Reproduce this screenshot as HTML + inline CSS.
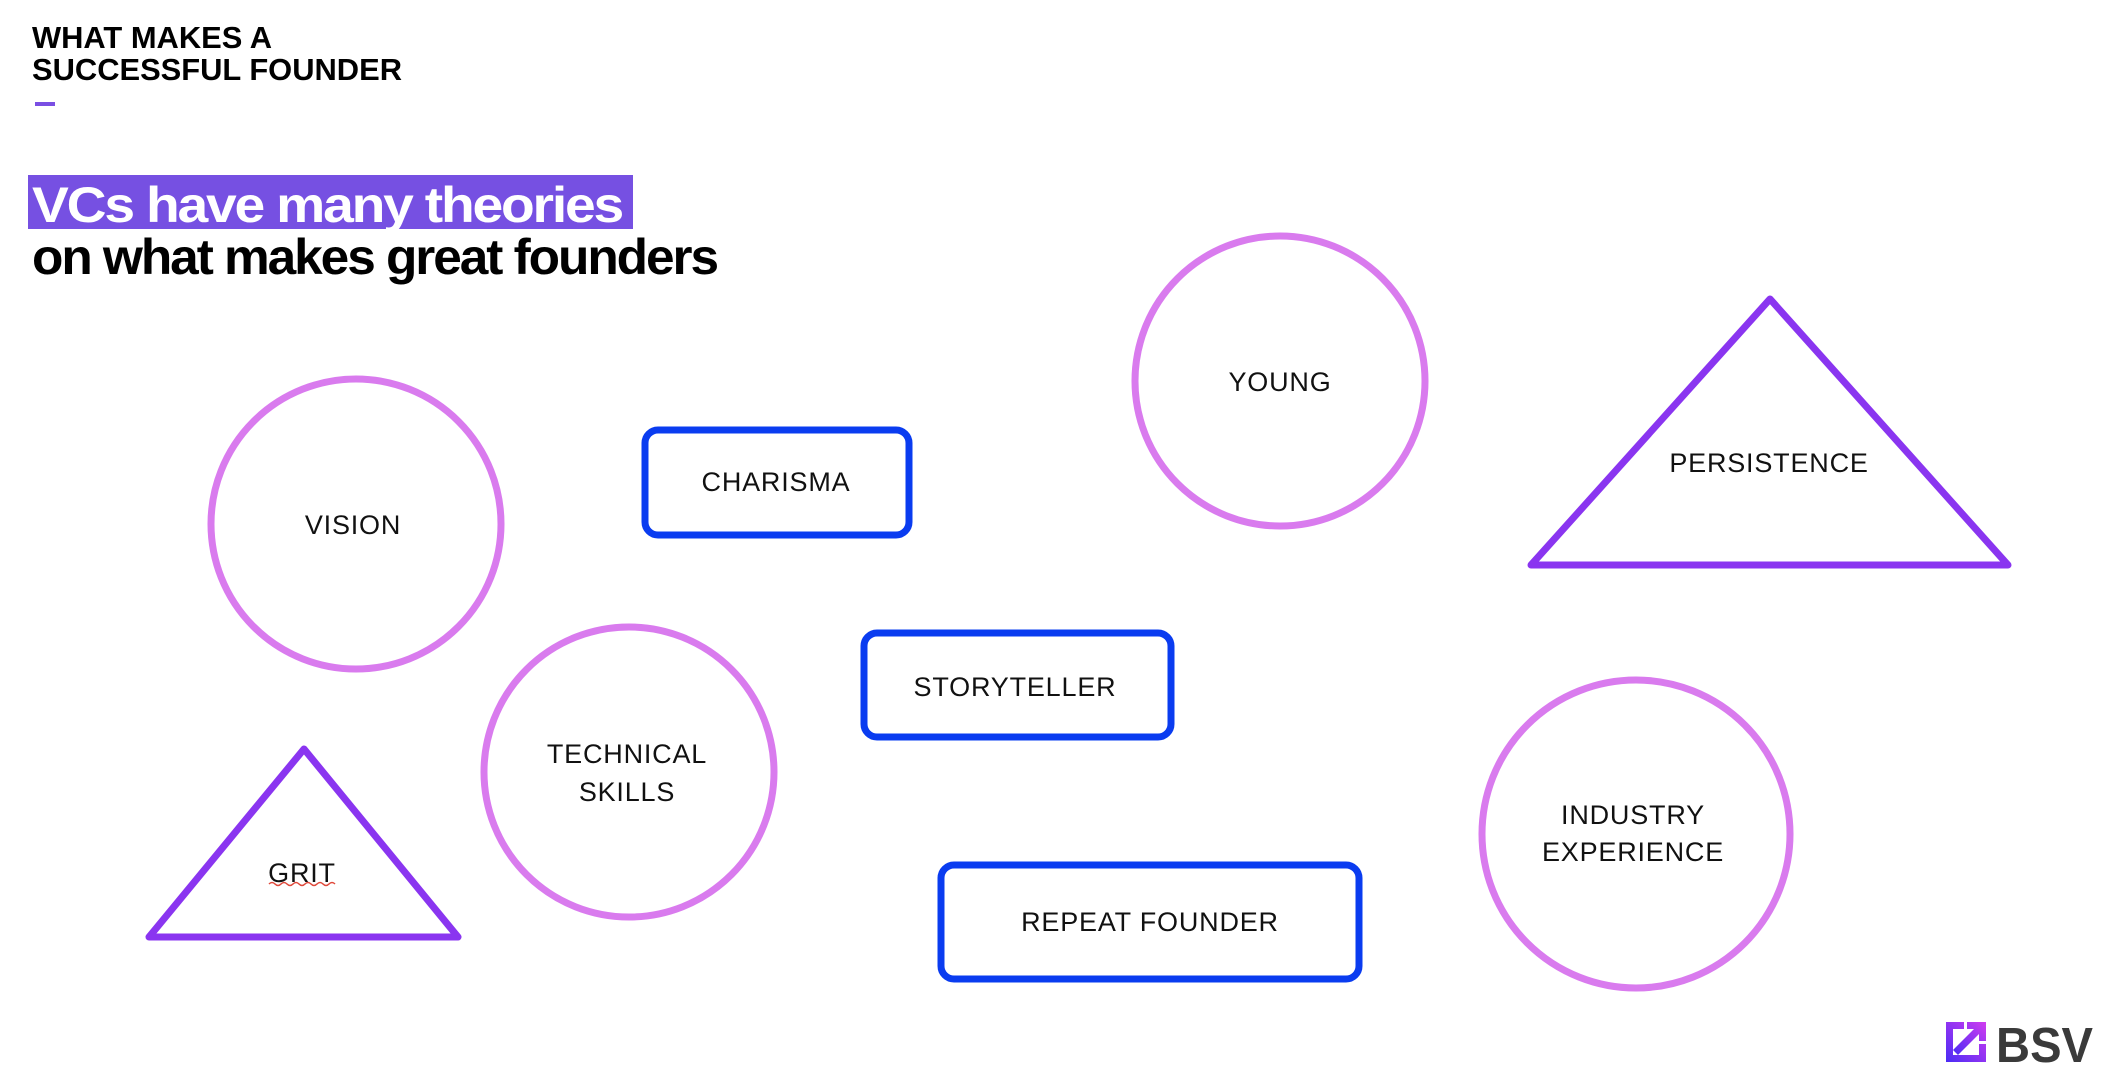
<!DOCTYPE html>
<html><head><meta charset="utf-8"><style>
html,body{margin:0;padding:0;background:#fff;width:2106px;height:1080px;overflow:hidden}
</style></head><body>
<svg width="2106" height="1080" viewBox="0 0 2106 1080" xmlns="http://www.w3.org/2000/svg">
<g font-family="Liberation Sans, sans-serif" font-weight="bold" fill="#000">
<text x="32" y="48" font-size="31" textLength="240" lengthAdjust="spacingAndGlyphs">WHAT MAKES A</text>
<text x="32" y="80" font-size="31" textLength="370" lengthAdjust="spacingAndGlyphs">SUCCESSFUL FOUNDER</text>
</g>
<rect x="35" y="102" width="20" height="4" fill="#7a4fe3"/>
<rect x="28" y="175" width="605" height="54" fill="#7650e2"/>
<g font-family="Liberation Sans, sans-serif" font-weight="bold">
<text x="32" y="222" font-size="50" fill="#fff" letter-spacing="-2" textLength="590" lengthAdjust="spacingAndGlyphs">VCs have many theories</text>
<text x="32" y="274" font-size="50" fill="#000" letter-spacing="-2" textLength="685" lengthAdjust="spacingAndGlyphs">on what makes great founders</text>
</g>
<g fill="none" stroke-width="7" stroke-linejoin="round">
<circle cx="356" cy="524" r="145" stroke="#d97bee"/>
<circle cx="1280" cy="381" r="145" stroke="#d97bee"/>
<circle cx="629" cy="772" r="145" stroke="#d97bee"/>
<circle cx="1636" cy="834" r="154" stroke="#d97bee"/>
<rect x="645" y="430" width="264" height="105" rx="13" stroke="#0a3cf0"/>
<rect x="864" y="633" width="307" height="104" rx="13" stroke="#0a3cf0"/>
<rect x="941" y="865" width="418" height="114" rx="13" stroke="#0a3cf0"/>
<polygon points="1770,299 2008,565 1531,565" stroke="#8a35f0"/>
<polygon points="304,749 458,937 149,937" stroke="#8a35f0"/>
</g>
<g font-family="Liberation Sans, sans-serif" font-size="27" fill="#111" text-anchor="middle" letter-spacing="0.8">
<text x="353" y="534">VISION</text>
<text x="776" y="491">CHARISMA</text>
<text x="1280" y="391">YOUNG</text>
<text x="1769" y="472">PERSISTENCE</text>
<text x="627" y="763">TECHNICAL</text>
<text x="627" y="801">SKILLS</text>
<text x="1015" y="696">STORYTELLER</text>
<text x="302" y="882">GRIT</text>
<text x="1150" y="931">REPEAT FOUNDER</text>
<text x="1633" y="824">INDUSTRY</text>
<text x="1633" y="861">EXPERIENCE</text>
</g>
<path d="M269,884 q3,-3 6,0 t6,0 t6,0 t6,0 t6,0 t6,0 t6,0 t6,0 t6,0 t6,0 t6,0" fill="none" stroke="#e0483a" stroke-width="1.5"/>
<defs><linearGradient id="g" x1="0" y1="1" x2="1" y2="0"><stop offset="0" stop-color="#4a2cf5"/><stop offset="1" stop-color="#d23cf0"/></linearGradient></defs>
<g fill="url(#g)">
<path d="M1946,1022 h18 v7 h-11 v26 h26 v-11 h7 v18 h-40 z"/>
<path d="M1967,1022 h19 v19 h-7 v-7 l-21,21 -5,-5 21,-21 h-7 z"/>
</g>
<text x="1996" y="1062" font-family="Liberation Sans, sans-serif" font-weight="bold" font-size="49" fill="#3a3a3a" textLength="97" lengthAdjust="spacingAndGlyphs">BSV</text>
</svg>
</body></html>
